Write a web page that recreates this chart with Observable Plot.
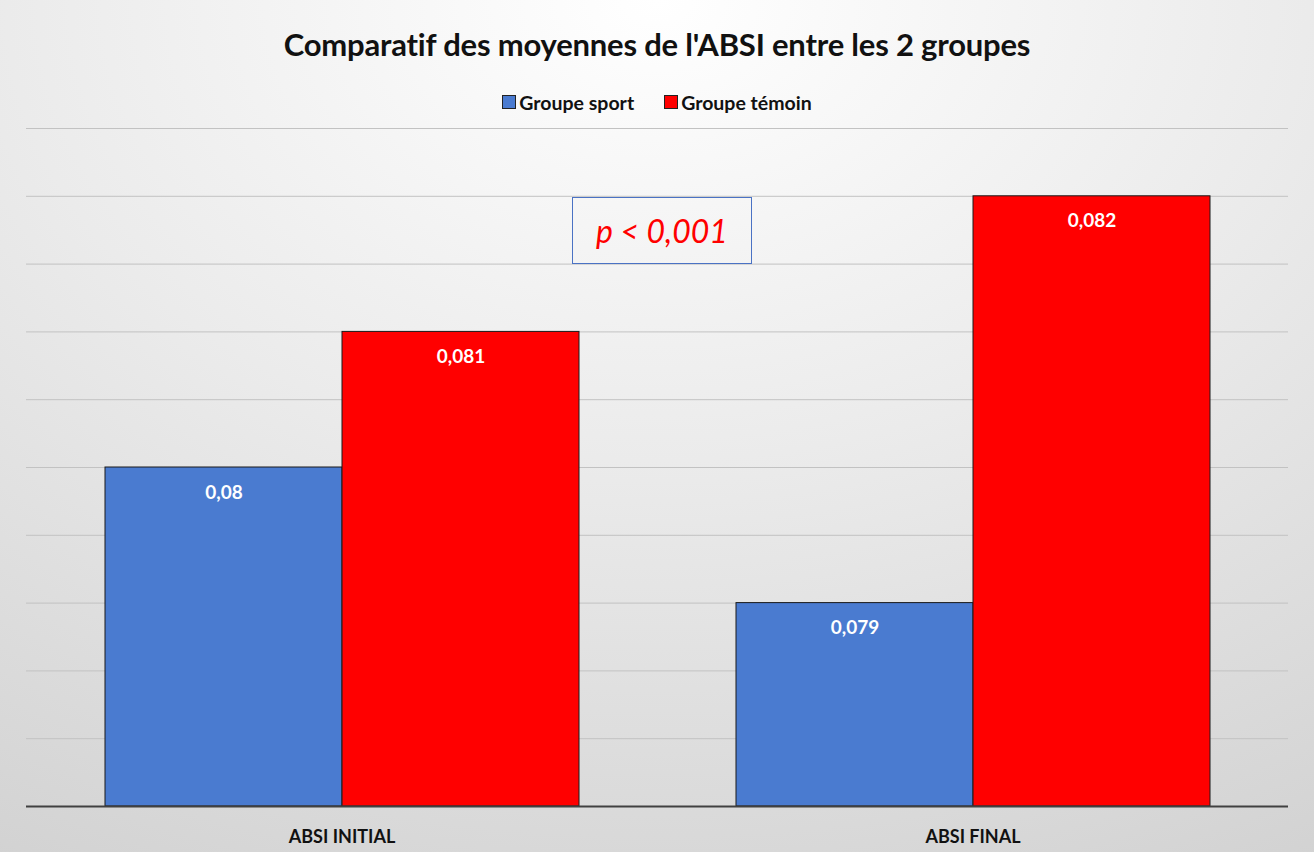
<!DOCTYPE html>
<html>
<head>
<meta charset="utf-8">
<script src="https://cdn.jsdelivr.net/npm/d3@7"></script>
<script src="https://cdn.jsdelivr.net/npm/@observablehq/plot@0.6"></script>
<style>
  html, body { margin: 0; padding: 0; }
  body {
    width: 1314px; height: 852px; overflow: hidden; position: relative;
    background: radial-gradient(ellipse 110% 120% at 50% 0%, #ffffff 0%, #ebebeb 45%, #d0d0d0 100%);
    font-family: Lato, "Open Sans", sans-serif;
  }
  #title { height: 80px; line-height: 88px; text-align: center; font-weight: 700; font-size: 31px; color: #111; letter-spacing: -0.2px; }
  #legend { height: 40px; display: flex; justify-content: center; align-items: center; gap: 30px; font-weight: 700; font-size: 19.5px; color: #111; padding-top: 4px; box-sizing: border-box; }
  #legend .item { display: flex; align-items: center; gap: 3px; }
  #legend .sw { width: 12px; height: 12px; border: 1px solid #222; }
  #chart svg { display: block; }
  #pbox { position: absolute; left: 572px; top: 197px; width: 180px; height: 67px; border: 1.5px solid #4a72c4; box-sizing: border-box;
    display: flex; align-items: center; justify-content: center; color: #ff0000; font-style: italic; font-size: 32px; }
</style>
</head>
<body>
<div id="title">Comparatif des moyennes de l'ABSI entre les 2 groupes</div>
<div id="legend"></div>
<div id="chart"></div>
<div id="pbox">p &lt; 0,001</div>
<script>
const categories = ["ABSI INITIAL", "ABSI FINAL"];
const groups = ["Groupe sport", "Groupe témoin"];
const sportValues = [0.080, 0.079];
const temoinValues = [0.081, 0.082];
const colors = ["#4a7bd0", "#ff0000"];
const yTicks = [0.0775, 0.078, 0.0785, 0.079, 0.0795, 0.080, 0.0805, 0.081, 0.0815, 0.082, 0.0825];

const data = [];
categories.forEach((c, i) => {
  data.push({category: c, group: groups[0], value: sportValues[i]});
  data.push({category: c, group: groups[1], value: temoinValues[i]});
});

const legend = document.getElementById("legend");
groups.forEach((g, i) => {
  const it = document.createElement("div");
  it.className = "item";
  it.innerHTML = `<span class="sw" style="background:${colors[i]}"></span><span>${g}</span>`;
  legend.appendChild(it);
});

const fmt = v => String(+v.toFixed(4)).replace(".", ",");

const plot = Plot.plot({
  width: 1314,
  height: 732,
  marginTop: 8,
  marginBottom: 46,
  marginLeft: 26,
  marginRight: 26,
  style: {background: "transparent", fontFamily: "Lato, 'Open Sans', sans-serif"},
  fx: {domain: categories, padding: 0, label: null, axis: "bottom", tickSize: 0, tickPadding: 24},
  x: {domain: groups, paddingInner: 0, paddingOuter: 0.3284, axis: null},
  y: {domain: [0.0775, 0.0825], axis: null},
  color: {domain: groups, range: colors},
  marks: [
    Plot.ruleY(yTicks.slice(1), {stroke: "#c2c2c2", strokeWidth: 1}),
    Plot.barY(data, {fx: "category", x: "group", y1: 0.0775, y2: "value", fill: "group", stroke: "#1a1a1a", strokeWidth: 1}),
    Plot.text(data, {fx: "category", x: "group", y: "value", text: d => fmt(d.value), dy: 25, fill: "white", fontWeight: "bold", fontSize: 19}),
    Plot.ruleY([0.0775], {stroke: "#404040", strokeWidth: 2})
  ]
});
d3.select(plot).selectAll("[aria-label='fx-axis tick label']")
  .attr("font-size", 18).attr("font-weight", "bold").attr("fill", "#111");
document.getElementById("chart").appendChild(plot);
</script>
</body>
</html>
